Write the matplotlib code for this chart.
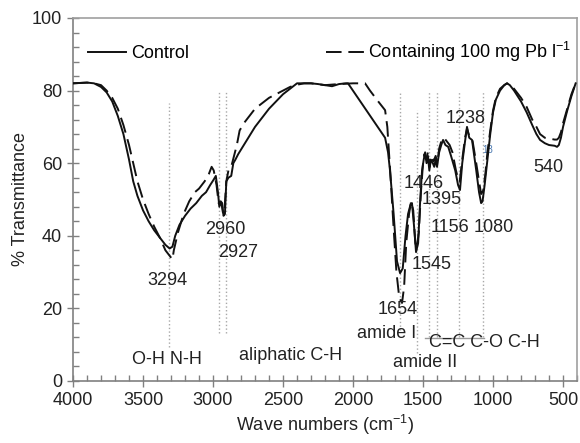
import matplotlib
matplotlib.use("Agg")
import matplotlib.pyplot as plt
from matplotlib import font_manager
from matplotlib.ticker import MultipleLocator

# the original uses a condensed Arial-like face; use the narrow Liberation if present
installed = {f.name for f in font_manager.fontManager.ttflist}
if "Liberation Sans Narrow" in installed:
    face, fs = "Liberation Sans Narrow", 15
else:
    face, fs = "Liberation Sans", 13
plt.rcParams["font.family"] = [face, "DejaVu Sans"]
plt.rcParams["mathtext.fontset"] = "custom"
plt.rcParams["mathtext.rm"] = face
plt.rcParams["mathtext.it"] = face

# FTIR spectra (wave number, % transmittance)
control_wn = [4000, 3900, 3850, 3800, 3760, 3720, 3680, 3640, 3600, 3570, 3540, 3500,
              3460, 3420, 3380, 3340, 3310, 3290, 3270, 3240, 3200, 3160, 3120, 3080,
              3050, 3020, 2995, 2980, 2965, 2955, 2945, 2935, 2925, 2915, 2905, 2890,
              2870, 2855, 2840, 2820, 2780, 2740, 2700, 2650, 2600, 2550, 2500, 2450,
              2400, 2350, 2300, 2250, 2200, 2150, 2100, 2050, 2036, 1771, 1750, 1736,
              1710, 1686, 1664, 1645, 1625, 1607, 1590, 1579, 1565, 1550, 1535, 1520,
              1507, 1495, 1485, 1475, 1465, 1455, 1445, 1430, 1420, 1410, 1400, 1385,
              1370, 1357, 1340, 1320, 1300, 1270, 1250, 1236, 1220, 1200, 1186, 1170,
              1150, 1120, 1100, 1085, 1075, 1060, 1040, 1020, 1000, 980, 950, 920,
              900, 880, 850, 800, 760, 720, 690, 664, 630, 600, 560, 543, 530, 515,
              500, 470, 440, 410]
control_t = [82, 82.2, 82, 81, 79.5, 77, 73, 68, 61, 55, 51, 47,
             44, 41.5, 39.5, 37.5, 36.5, 37, 40, 43, 45.5, 47.5, 49, 51,
             52, 54, 55.5, 56.5, 52, 48, 49.5, 49, 45.5, 46, 55, 56,
             56.5, 60, 61, 62.5, 65, 67.5, 70, 72.5, 75, 77, 79, 80.5,
             82, 82, 82, 81.8, 81.5, 81.2, 81.8, 82, 82, 67, 63, 58,
             46, 33, 29.7, 31, 40, 46, 48.5, 49, 43, 35.5, 38, 50,
             58, 61, 63, 60, 62, 58, 61, 60, 59, 61, 59, 63,
             65, 66.4, 65, 64.5, 62, 58, 54, 52.6, 60, 66, 70, 67,
             66.4, 58, 52, 49, 49.5, 54, 61, 68, 74, 77.5, 80, 81.5,
             82, 81.5, 80, 77, 74, 70.5, 68, 66.4, 65.5, 65, 64.8, 64.5, 65, 67,
             70, 74.5, 78.5, 82]

lead_wn = [4000, 3900, 3850, 3800, 3760, 3720, 3680, 3640, 3600, 3570, 3540, 3500,
           3460, 3420, 3380, 3340, 3310, 3290, 3280, 3250, 3210, 3170, 3130, 3100,
           3060, 3030, 3010, 2995, 2975, 2960, 2950, 2940, 2930, 2920, 2905, 2890,
           2870, 2850, 2830, 2810, 2780, 2740, 2700, 2650, 2600, 2550, 2500, 2450,
           2414, 2350, 2300, 2200, 2100, 2000, 1914, 1879, 1820, 1771, 1755, 1745,
           1730, 1710, 1690, 1670, 1650, 1635, 1620, 1600, 1585, 1570, 1555, 1545,
           1530, 1515, 1500, 1490, 1478, 1465, 1452, 1440, 1425, 1410, 1398, 1385,
           1370, 1350, 1330, 1310, 1290, 1265, 1248, 1238, 1220, 1200, 1186, 1170,
           1150, 1120, 1100, 1085, 1070, 1055, 1040, 1020, 1000, 980, 950, 920,
           900, 880, 850, 800, 760, 720, 690, 664, 630, 600, 560, 543, 530, 515,
           500, 470, 440, 410]
lead_t = [82, 82.2, 82, 81.5, 80, 78, 75, 70.5, 65, 60, 55, 50,
          46, 42.5, 39.5, 36, 34.5, 33.5, 36, 41, 46, 49.5, 52, 53,
          55, 57, 59, 58, 54, 49, 48.5, 49, 46.5, 46, 55, 58,
          59, 62, 65, 69, 71, 73, 75, 76.5, 78, 79, 80, 81,
          81.5, 82, 82, 81.5, 81.8, 82, 82, 80, 77, 74.6, 70, 64,
          55, 42, 30, 23, 21.5, 26, 38, 46, 49.5, 47, 38, 36.5,
          41, 52, 60, 62.5, 61, 63, 59, 62, 60.5, 62, 60, 64,
          66, 67, 66, 65, 63, 58, 55.5, 55, 61, 67, 69.5, 67.5,
          67, 60, 55, 51.5, 52.5, 57, 63, 69, 74.5, 78, 80.5, 81.5,
          82, 81.5, 80.5, 78, 75.5, 72, 70, 68, 67, 66.8, 66.5, 66.5, 67, 68.5,
          71, 75, 79, 82]

# marker lines: wave number, top, bottom
peak_wn = [3314, 2957, 2907, 1664, 1545, 1457, 1400, 1243, 1071]
peak_top = [76.6, 80, 80, 80, 74.6, 80, 80, 80, 80]
peak_bottom = [9.4, 13.2, 13.2, 14, 7.7, 12, 12, 12, 12]

# peak labels: text, wave number, transmittance
label_text = ["3294", "2960", "2927", "1654", "1545", "1446", "1395", "1238",
              "1156", "1080", "540", "amide I", "amide II", "O-H N-H",
              "aliphatic C-H", "C=C C-O C-H"]
label_wn = [3329, 2914, 2821, 1679, 1436, 1493, 1370, 1193,
            1307, 993, 607, 1757, 1486, 3329, 2443, 1064]
label_t = [27.8, 41.6, 35.5, 19.6, 32, 54.5, 49.9, 72.4,
           42.4, 42.4, 58.7, 13.2, 5.2, 5.8, 6.9, 10.7]

fig = plt.figure(figsize=(5.8, 4.43), dpi=100)
ax = fig.add_axes([0.1259, 0.1400, 0.8690, 0.8194])

for x, top, bottom in zip(peak_wn, peak_top, peak_bottom):
    ax.plot([x, x], [bottom, top], ls=":", color="#a8a8a8", lw=1.0, zorder=1)
ax.plot([1486, 1064], [11.8, 11.8], color="#9a9a9a", lw=1.0, zorder=1)

ax.plot(control_wn, control_t, color="#111111", lw=1.4, label="Control", zorder=3)
ax.plot(lead_wn, lead_t, color="#111111", lw=1.4, dashes=(8, 3.5),
        label="Containing 100 mg Pb l$^{-1}$", zorder=3)

for txt, x, y in zip(label_text, label_wn, label_t):
    ax.text(x, y, txt, ha="center", va="center", fontsize=fs, color="#222222", zorder=4)
ax.text(1035, 63.5, "18", ha="center", va="center", fontsize=7, color="#4a78b0", zorder=2)

ax.set_xlim(4000, 400)
ax.set_ylim(0, 100)
ax.xaxis.set_major_locator(MultipleLocator(500))
ax.xaxis.set_minor_locator(MultipleLocator(100))
ax.yaxis.set_major_locator(MultipleLocator(20))
ax.yaxis.set_minor_locator(MultipleLocator(4))
ax.tick_params(which="major", direction="inout", length=8, width=1, color="#808080",
               labelsize=fs, labelcolor="#222222", pad=4)
ax.tick_params(which="minor", direction="in", length=4, width=1, color="#808080")

for side in ["left", "bottom"]:
    ax.spines[side].set_color("#808080")
for side in ["top", "right"]:
    ax.spines[side].set_color("#a0a0a0")
for s in ax.spines.values():
    s.set_linewidth(1.2)

ax.set_xlabel("Wave numbers (cm$^{-1}$)", fontsize=fs, color="#222222", labelpad=3)
ax.set_ylabel("% Transmittance", fontsize=fs, color="#222222", labelpad=2)

ax.legend(ncol=2, loc="upper left", bbox_to_anchor=(0.03, 0.94), frameon=False,
          fontsize=fs, handlelength=38 / (fs * 100 / 72), handletextpad=0.25,
          columnspacing=137 / (fs * 100 / 72), borderpad=0, borderaxespad=0)

fig.savefig("out.png", dpi=100)
plt.close(fig)
